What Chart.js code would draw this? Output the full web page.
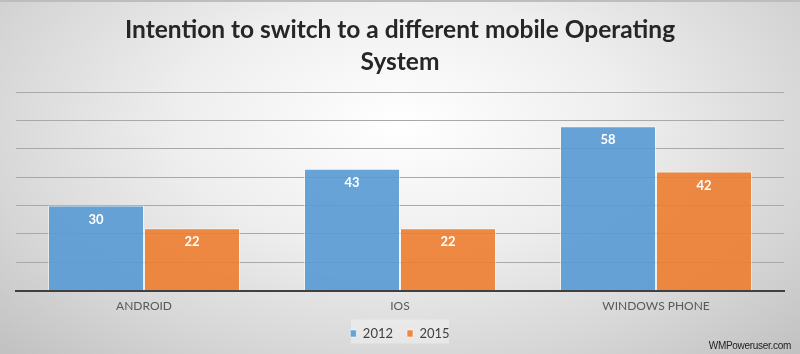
<!DOCTYPE html>
<html>
<head>
<meta charset="utf-8">
<script src="https://cdn.jsdelivr.net/npm/chart.js@4/dist/chart.umd.min.js"></script>
<style>
  html, body { margin: 0; padding: 0; }
  body {
    width: 800px; height: 354px; overflow: hidden; position: relative;
    background: radial-gradient(ellipse 70% 90% at 50% 35%, #ffffff 0%, #eeeeee 40%, #d6d6d6 75%, #c2c2c2 100%);
    border-top: 2px solid #bdbdbd; box-sizing: border-box;
  }
  #wrap { position: absolute; left: 0; top: 0; width: 800px; height: 354px; }
  #mark {
    position: absolute; right: 9px; bottom: 3px;
    font: 10px "Liberation Sans", sans-serif; color: #222; letter-spacing: -0.3px;
  }
</style>
</head>
<body>
<div id="wrap"><canvas id="myChart"></canvas></div>
<div id="mark">WMPoweruser.com</div>
<script>
const categories = ['ANDROID', 'IOS', 'WINDOWS PHONE']
const values2012 = [30, 43, 58]
const values2015 = [22, 22, 42]
const seriesNames = ['2012', '2015']
const yTicks = [0, 10, 20, 30, 40, 50, 60, 70]

// white value labels just inside the top of each bar
const barLabels = {
    id: 'barLabels',
    afterDatasetsDraw(chart) {
        const ctx = chart.ctx
        ctx.save()
        ctx.fillStyle = '#ffffff'
        ctx.font = 'bold 13px Lato, sans-serif'
        ctx.textAlign = 'center'
        ctx.textBaseline = 'middle'
        chart.data.datasets.forEach((ds, i) => {
            chart.getDatasetMeta(i).data.forEach((bar, j) => {
                ctx.fillText(ds.data[j], bar.x, bar.y + 14)
            })
        })
        ctx.restore()
    }
}

// faint box behind the legend
const legendBox = {
    id: 'legendBox',
    beforeDraw(chart) {
        const l = chart.legend
        if (!l) return
        const ctx = chart.ctx
        ctx.save()
        ctx.fillStyle = 'rgba(255,255,255,0.35)'
        ctx.fillRect(l.left + (l.width - 98) / 2, l.top + l.height / 2 - 12, 98, 24)
        ctx.restore()
    }
}

var ctx = document.getElementById('myChart')
var myChart = new Chart(ctx, {
    type: 'bar',
    data: {
        labels: categories,
        datasets: [{
            label: seriesNames[0],
            data: values2012,
            backgroundColor: 'rgba(91,155,213,0.92)',
            borderColor: 'rgba(255,255,255,0.5)',
            borderWidth: 1
        }, {
            label: seriesNames[1],
            data: values2015,
            backgroundColor: 'rgba(237,125,49,0.9)',
            borderColor: 'rgba(255,255,255,0.5)',
            borderWidth: 1
        }]
    },
    plugins: [barLabels, legendBox],
    options: {
        responsive: true,
        maintainAspectRatio: false,
        animation: false,
        layout: { padding: { left: 16, right: 16, top: 12, bottom: 6 } },
        datasets: { bar: { barPercentage: 1, categoryPercentage: 0.75 } },
        scales: {
            x: {
                grid: { display: false },
                border: { color: '#404040', width: 2 },
                ticks: { color: '#595959', font: { family: 'Lato', size: 12 }, padding: 0 }
            },
            y: {
                min: 0,
                max: 70,
                afterBuildTicks: axis => { axis.ticks = yTicks.map(v => ({ value: v })) },
                ticks: { display: false },
                border: { display: false },
                grid: { color: '#a9a9a9', lineWidth: 1, drawTicks: false }
            }
        },
        plugins: {
            title: {
                display: true,
                text: ['Intention to switch to a different mobile Operating', 'System'],
                color: '#262626',
                font: { family: 'Lato', size: 24.5, weight: 'bold', lineHeight: 1.3 },
                padding: { top: 0, bottom: 14.5 }
            },
            legend: {
                position: 'bottom',
                labels: {
                    color: '#404040',
                    font: { family: 'Lato', size: 13 },
                    boxWidth: 6,
                    boxHeight: 7,
                    padding: 14
                }
            },
            tooltip: { enabled: false }
        }
    }
})
</script>
</body>
</html>
